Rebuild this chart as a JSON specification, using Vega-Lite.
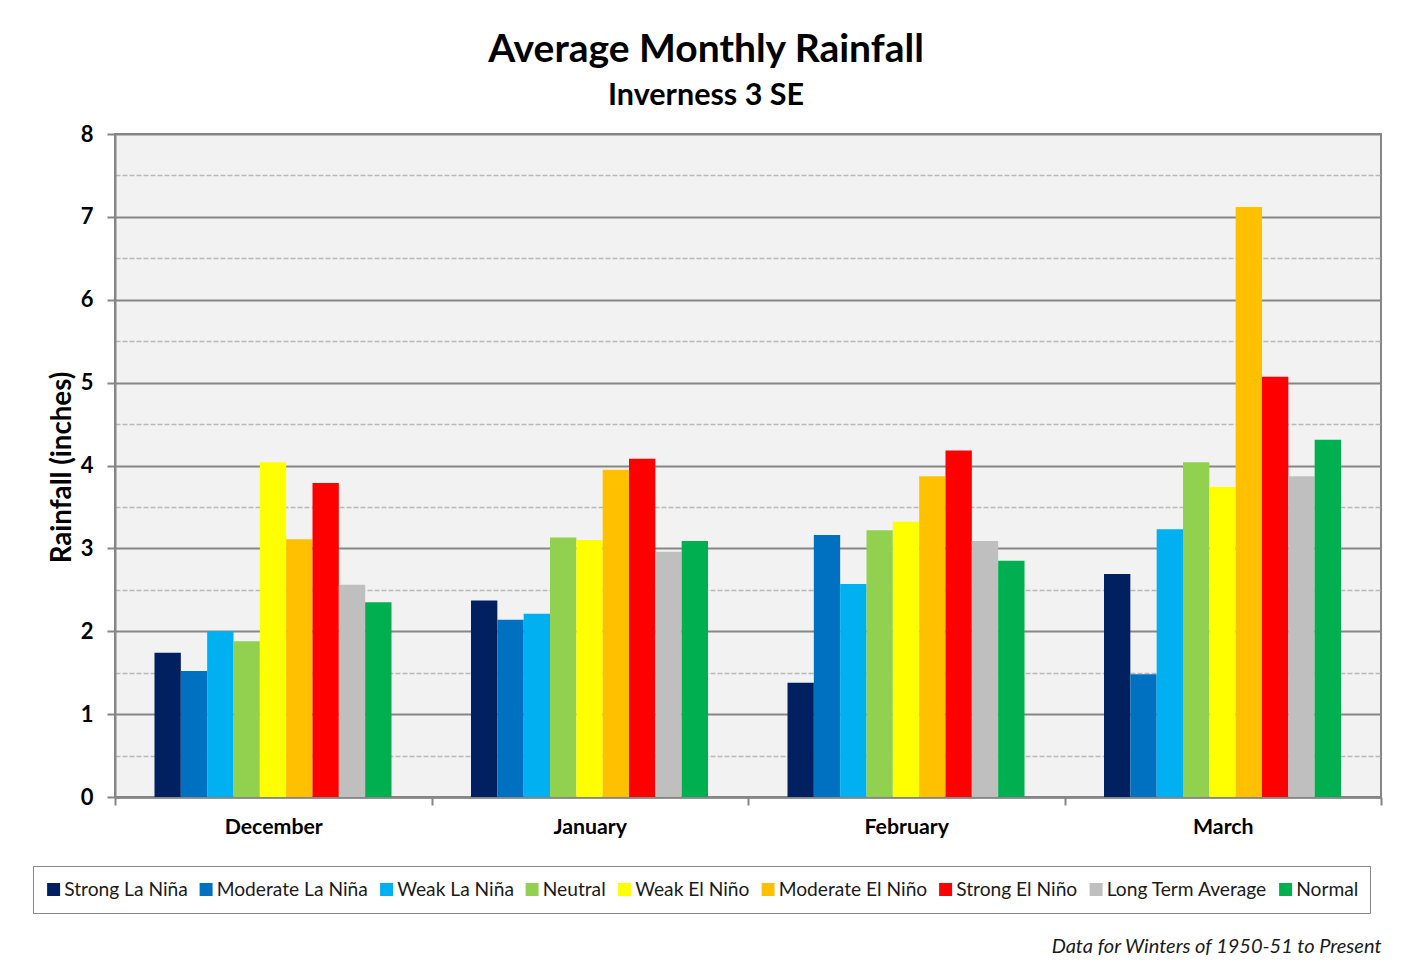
{
  "$schema": "https://vega.github.io/schema/vega-lite/v6.json",
  "width": 1266,
  "height": 663,
  "autosize": "none",
  "padding": {"left": 115, "top": 134, "right": 24, "bottom": 170},
  "background": "white",
  "title": {
    "text": "Average Monthly Rainfall",
    "subtitle": "Inverness 3 SE",
    "anchor": "middle",
    "frame": "group",
    "dx": -42,
    "offset": 12,
    "font": "Lato",
    "fontSize": 39,
    "fontWeight": "bold",
    "color": "black",
    "subtitleFont": "Lato",
    "subtitleFontSize": 30.5,
    "subtitleFontWeight": "bold",
    "subtitleColor": "black",
    "subtitlePadding": 11
  },
  "data": {
    "values": [
      {"month": "December", "phase": "Strong La Niña", "rain": 1.74},
      {"month": "December", "phase": "Moderate La Niña", "rain": 1.52},
      {"month": "December", "phase": "Weak La Niña", "rain": 2.0},
      {"month": "December", "phase": "Neutral", "rain": 1.88},
      {"month": "December", "phase": "Weak El Niño", "rain": 4.04},
      {"month": "December", "phase": "Moderate El Niño", "rain": 3.11},
      {"month": "December", "phase": "Strong El Niño", "rain": 3.79},
      {"month": "December", "phase": "Long Term Average", "rain": 2.56},
      {"month": "December", "phase": "Normal", "rain": 2.35},
      {"month": "January", "phase": "Strong La Niña", "rain": 2.37},
      {"month": "January", "phase": "Moderate La Niña", "rain": 2.14},
      {"month": "January", "phase": "Weak La Niña", "rain": 2.21},
      {"month": "January", "phase": "Neutral", "rain": 3.13},
      {"month": "January", "phase": "Weak El Niño", "rain": 3.1},
      {"month": "January", "phase": "Moderate El Niño", "rain": 3.95},
      {"month": "January", "phase": "Strong El Niño", "rain": 4.08},
      {"month": "January", "phase": "Long Term Average", "rain": 2.96},
      {"month": "January", "phase": "Normal", "rain": 3.09},
      {"month": "February", "phase": "Strong La Niña", "rain": 1.38},
      {"month": "February", "phase": "Moderate La Niña", "rain": 3.16},
      {"month": "February", "phase": "Weak La Niña", "rain": 2.57},
      {"month": "February", "phase": "Neutral", "rain": 3.22},
      {"month": "February", "phase": "Weak El Niño", "rain": 3.32},
      {"month": "February", "phase": "Moderate El Niño", "rain": 3.87},
      {"month": "February", "phase": "Strong El Niño", "rain": 4.18},
      {"month": "February", "phase": "Long Term Average", "rain": 3.09},
      {"month": "February", "phase": "Normal", "rain": 2.85},
      {"month": "March", "phase": "Strong La Niña", "rain": 2.69},
      {"month": "March", "phase": "Moderate La Niña", "rain": 1.48},
      {"month": "March", "phase": "Weak La Niña", "rain": 3.23},
      {"month": "March", "phase": "Neutral", "rain": 4.04},
      {"month": "March", "phase": "Weak El Niño", "rain": 3.74},
      {"month": "March", "phase": "Moderate El Niño", "rain": 7.12},
      {"month": "March", "phase": "Strong El Niño", "rain": 5.07},
      {"month": "March", "phase": "Long Term Average", "rain": 3.87},
      {"month": "March", "phase": "Normal", "rain": 4.31}
    ]
  },
  "mark": {"type": "bar"},
  "encoding": {
    "x": {
      "field": "month",
      "type": "nominal",
      "sort": ["December", "January", "February", "March"],
      "scale": {"paddingInner": 0, "paddingOuter": 0},
      "axis": {
        "title": "Data for Winters of 1950-51 to Present",
        "titleFont": "Lato",
        "titleFontSize": 20,
        "titleFontStyle": "italic",
        "titleFontWeight": "normal",
        "titleColor": "#1a1a1a",
        "titleAlign": "right",
        "titleAnchor": "end",
        "titleX": 1266,
        "titleY": 155,
        "titleBaseline": "alphabetic",
        "labelAngle": 0,
        "labelFont": "Lato",
        "labelFontSize": 21.3,
        "labelFontWeight": "bold",
        "labelColor": "black",
        "labelPadding": 11,
        "tickBand": "extent",
        "tickSize": 8,
        "tickWidth": 2,
        "tickColor": "#868686",
        "domainColor": "#868686",
        "domainWidth": 2.5,
        "grid": false
      }
    },
    "xOffset": {
      "field": "phase",
      "sort": ["Strong La Niña", "Moderate La Niña", "Weak La Niña", "Neutral", "Weak El Niño", "Moderate El Niño", "Strong El Niño", "Long Term Average", "Normal"],
      "scale": {"paddingInner": 0, "paddingOuter": 0, "range": [39.5, 276.5]}
    },
    "y": {
      "field": "rain",
      "type": "quantitative",
      "scale": {"domain": [0, 8], "nice": false},
      "axis": {
        "title": "Rainfall (inches)",
        "titleFont": "Lato",
        "titleFontSize": 27.7,
        "titleFontWeight": "bold",
        "titleColor": "black",
        "titleY": 333,
        "titleX": -39,
        "values": [0, 0.5, 1, 1.5, 2, 2.5, 3, 3.5, 4, 4.5, 5, 5.5, 6, 6.5, 7, 7.5, 8],
        "labelExpr": "datum.value % 1 == 0 ? datum.value : ''",
        "labelFont": "Lato",
        "labelFontSize": 22,
        "labelFontWeight": "bold",
        "labelColor": "black",
        "labelPadding": 14,
        "domainColor": "#868686",
        "domainWidth": 2,
        "tickSize": 8,
        "tickWidth": 2,
        "tickColor": "#868686",
        "tickOpacity": {"condition": {"test": "datum.value % 1 != 0", "value": 0}, "value": 1},
        "grid": true,
        "gridColor": {"condition": {"test": "datum.value % 1 != 0", "value": "#b8b8b8"}, "value": "#868686"},
        "gridWidth": {"condition": {"test": "datum.value % 1 != 0", "value": 1.5}, "value": 2},
        "gridDash": {"condition": {"test": "datum.value % 1 != 0", "value": [5, 2]}, "value": [1, 0]}
      }
    },
    "color": {
      "field": "phase",
      "type": "nominal",
      "sort": ["Strong La Niña", "Moderate La Niña", "Weak La Niña", "Neutral", "Weak El Niño", "Moderate El Niño", "Strong El Niño", "Long Term Average", "Normal"],
      "scale": {
        "domain": ["Strong La Niña", "Moderate La Niña", "Weak La Niña", "Neutral", "Weak El Niño", "Moderate El Niño", "Strong El Niño", "Long Term Average", "Normal"],
        "range": ["#002060", "#0070C0", "#00B0F0", "#92D050", "#FFFF00", "#FFC000", "#FF0000", "#BFBFBF", "#00B050"]
      },
      "legend": {
        "title": null,
        "orient": "none",
        "legendX": -82,
        "legendY": 732,
        "direction": "horizontal",
        "columns": 9,
        "columnPadding": 8.5,
        "symbolType": "square",
        "symbolSize": 169,
        "symbolStrokeWidth": 0,
        "labelFont": "Lato",
        "labelFontSize": 19.2,
        "labelColor": "#1a1a1a",
        "labelOffset": 1,
        "labelLimit": 300,
        "clipHeight": 25,
        "fillColor": "white",
        "strokeColor": "#868686",
        "padding": 11,
        "encoding": {"legend": {"update": {"strokeWidth": {"value": 2}}}}
      }
    }
  },
  "config": {
    "view": {"fill": "#F2F2F2", "stroke": "#868686", "strokeWidth": 2}
  }
}
